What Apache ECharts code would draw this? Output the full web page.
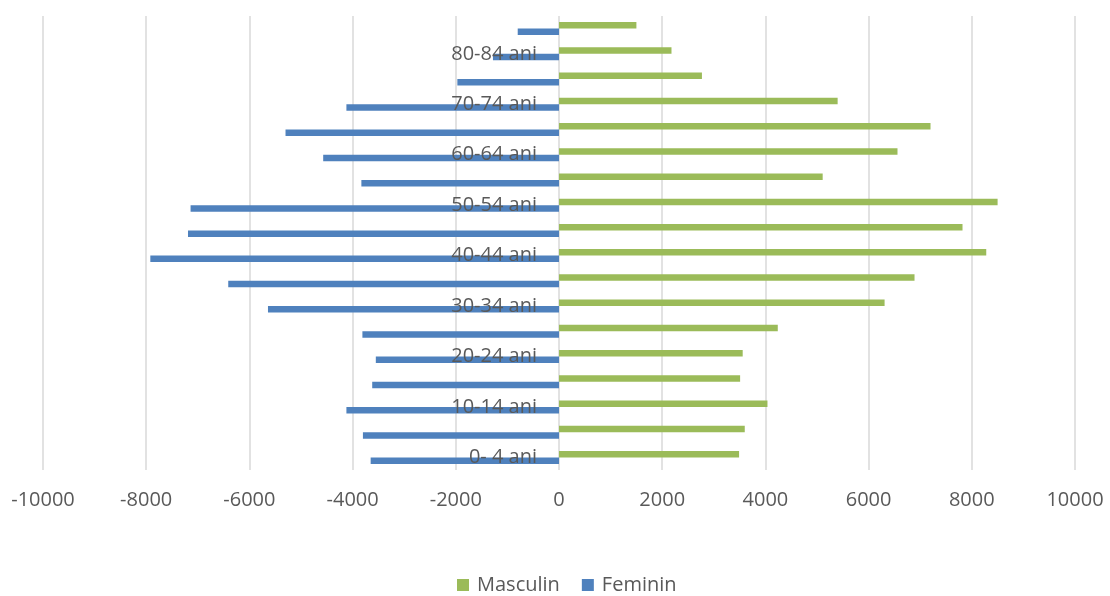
<!DOCTYPE html>
<html>
<head>
<meta charset="utf-8">
<script src="https://cdn.jsdelivr.net/npm/echarts@6/dist/echarts.min.js"></script>
<style>
html,body{margin:0;padding:0;background:#fff;}
#chart{width:1110px;height:596px;}
</style>
</head>
<body>
<div id="chart"></div>
<script>
const categories = ['0- 4 ani','5- 9 ani','10-14 ani','15-19 ani','20-24 ani','25-29 ani','30-34 ani','35-39 ani','40-44 ani','45-49 ani','50-54 ani','55-59 ani','60-64 ani','65-69 ani','70-74 ani','75-79 ani','80-84 ani','85+ ani'];
const masculin = [3490,3600,4040,3510,3560,4240,6310,6890,8280,7820,8500,5110,6560,7200,5400,2770,2180,1500];
const feminin = [-3650,-3800,-4120,-3620,-3550,-3810,-5640,-6410,-7920,-7190,-7140,-3830,-4570,-5300,-4120,-1970,-1280,-800];
const xTicks = [-10000,10000,2000];

const chart = echarts.init(document.getElementById('chart'));
const font = "'Open Sans', sans-serif";
const gridLeft = 43, gridRight = 35;
const plotW = 1110 - gridLeft - gridRight;
const zeroOffset = -plotW * (0 - xTicks[0]) / (xTicks[1] - xTicks[0]);
chart.setOption({
  animation:false,
  textStyle:{fontFamily:font},
  grid:{left:gridLeft,right:gridRight,top:16,bottom:126,containLabel:false,outerBoundsMode:'none'},
  legend:{
    data:['Masculin','Feminin'],
    top:570,left:452,
    icon:'rect',itemWidth:12,itemHeight:12,itemGap:22,
    textStyle:{fontSize:20,color:'#595959',fontFamily:font,padding:[0,0,0,3]}
  },
  xAxis:{
    type:'value',min:xTicks[0],max:xTicks[1],interval:xTicks[2],
    axisLine:{show:false},axisTick:{show:false},
    splitLine:{show:true,lineStyle:{color:'#d9d9d9',width:1.5}},
    axisLabel:{fontSize:20,color:'#595959',margin:20,fontFamily:font,formatter:function(v){return String(v);}}
  },
  yAxis:{
    type:'category',data:categories,z:5,position:'left',offset:zeroOffset,
    axisLine:{show:false,onZero:false},axisTick:{show:false},
    axisLabel:{interval:1,fontSize:20,color:'#595959',margin:22,fontFamily:font}
  },
  series:[
    {name:'Masculin',type:'bar',data:masculin,barWidth:6.5,barGap:'0%',itemStyle:{color:'#9bbb59'}},
    {name:'Feminin',type:'bar',data:feminin,barWidth:6.5,barGap:'0%',itemStyle:{color:'#4f81bd'}}
  ]
});
</script>
</body>
</html>
